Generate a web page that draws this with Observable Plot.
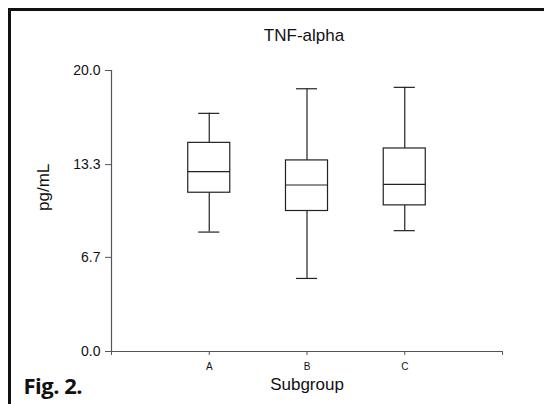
<!DOCTYPE html>
<html><head><meta charset="utf-8">
<script src="https://cdn.jsdelivr.net/npm/d3@7"></script>
<script src="https://cdn.jsdelivr.net/npm/@observablehq/plot@0.6"></script>
<style>
html,body{margin:0;padding:0;background:#fff;}
#wrap{position:relative;width:544px;height:404px;overflow:hidden;}
#border{position:absolute;left:8px;top:8px;width:560px;height:420px;border-left:3px solid #111;border-top:3px solid #111;pointer-events:none;}
#chart{position:absolute;left:0;top:0;}
</style></head><body>
<div id="wrap"><div id="chart"></div><div id="border"></div></div>
<script>
const categories = ["A", "B", "C"];
const whiskerLow = [8.5, 5.2, 8.6];
const q1 = [11.3, 10.0, 10.4];
const median = [12.8, 11.85, 11.9];
const q3 = [14.85, 13.6, 14.45];
const whiskerHigh = [16.95, 18.7, 18.8];
const yTicks = [0, 6.7, 13.3, 20.0];
const xTickLabels = ["", "A", "B", "C", ""];
const title = "TNF-alpha";
const xLabel = "Subgroup";
const yLabel = "pg/mL";
const figLabel = "Fig. 2.";

const data = categories.map((c, i) => ({
  cat: c, pos: i + 1, lo: whiskerLow[i], q1: q1[i], med: median[i], q3: q3[i], hi: whiskerHigh[i]
}));
const hw = 0.215, cw = 0.108;
const boxStroke = "#222", axisStroke = "#555";

const plot = Plot.plot({
  width: 544, height: 404,
  marginLeft: 111, marginRight: 42, marginTop: 70, marginBottom: 53,
  style: {fontFamily: "Arial, 'Liberation Sans', sans-serif", background: "transparent", overflow: "visible", color: "#111"},
  x: {type: "linear", domain: [0, 4], axis: null},
  y: {domain: [0, 20], axis: null},
  marks: [
    Plot.ruleX([0], {stroke: axisStroke, strokeWidth: 1.2}),
    Plot.ruleY([0], {stroke: axisStroke, strokeWidth: 1.2}),
    Plot.axisY({ticks: yTicks, tickFormat: d => d.toFixed(1), tickSize: 6, tickPadding: 5, fontSize: 14, stroke: axisStroke, fill: "#111", label: null}),
    Plot.axisX({ticks: [0, 1, 2, 3, 4], tickFormat: d => xTickLabels[d], tickSize: 4, tickPadding: 7, fontSize: 10, stroke: axisStroke, fill: "#111", label: null}),
    Plot.ruleX(data, {x: "pos", y1: "lo", y2: "q1", stroke: boxStroke, strokeWidth: 1.2}),
    Plot.ruleX(data, {x: "pos", y1: "q3", y2: "hi", stroke: boxStroke, strokeWidth: 1.2}),
    Plot.rect(data, {x1: d => d.pos - hw, x2: d => d.pos + hw, y1: "q1", y2: "q3", fill: "white", stroke: boxStroke, strokeWidth: 1.2}),
    Plot.ruleY(data, {y: "med", x1: d => d.pos - hw, x2: d => d.pos + hw, stroke: boxStroke, strokeWidth: 1.2}),
    Plot.ruleY(data, {y: "lo", x1: d => d.pos - cw, x2: d => d.pos + cw, stroke: boxStroke, strokeWidth: 1.2}),
    Plot.ruleY(data, {y: "hi", x1: d => d.pos - cw, x2: d => d.pos + cw, stroke: boxStroke, strokeWidth: 1.2}),
    Plot.text([title], {text: d => d, frameAnchor: "top", dx: -3, dy: -30, lineAnchor: "bottom", fontSize: 17, fill: "#111"}),
    Plot.text([xLabel], {text: d => d, frameAnchor: "bottom", dy: 38, lineAnchor: "bottom", fontSize: 17, fill: "#111"}),
    Plot.text([yLabel], {text: d => d, frameAnchor: "left", rotate: -90, dx: -63, lineAnchor: "bottom", fontSize: 17, fill: "#111"}),
    Plot.text([figLabel], {text: d => d, frameAnchor: "bottom-left", dx: -88, dy: 42, textAnchor: "start", lineAnchor: "bottom", fontSize: 22, fontWeight: "bold", fontFamily: "'Open Sans', sans-serif", fill: "#111"})
  ]
});
d3.select(plot).selectAll("text").filter(function() { return this.textContent === figLabel; }).style("letter-spacing", "-0.5px");
document.getElementById("chart").appendChild(plot);
</script>
</body></html>
